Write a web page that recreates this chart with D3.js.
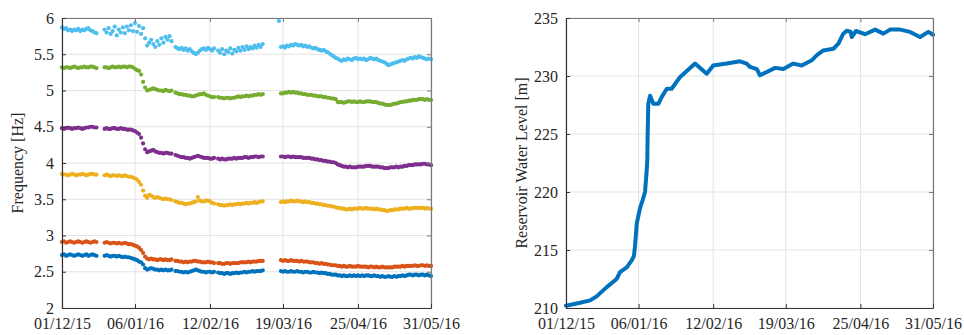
<!DOCTYPE html>
<html>
<head>
<meta charset="utf-8">
<script src="https://cdn.jsdelivr.net/npm/d3@7"></script>
<style>
  html, body { margin: 0; padding: 0; background: #fff; }
  svg { display: block; }
  svg text { font-family: "Liberation Serif", "DejaVu Serif", serif !important; fill: #262626; }
</style>
</head>
<body>
<svg id="fig" width="964" height="335"></svg>
<script>
// ---- data ----
const _ = null;
const startDate = new Date(2015, 11, 1);
const endDate = new Date(2016, 4, 31);
const tickDates = ["2015-12-01", "2016-01-06", "2016-02-12", "2016-03-19", "2016-04-25", "2016-05-31"];
const freqTicks = [2, 2.5, 3, 3.5, 4, 4.5, 5, 5.5, 6];
const levelTicks = [210, 215, 220, 225, 230, 235];

// daily natural frequencies, one entry per day from 01/12/15 (null = no record)
const mode1 = [2.73,2.74,2.72,2.73,2.74,2.73,2.72,2.73,2.74,2.73,2.72,2.73,2.74,2.72,2.73,2.74,2.73,2.72,_,_,_,
  2.72,2.73,2.72,2.71,2.72,2.72,2.71,2.72,2.71,2.70,2.71,2.70,2.70,2.69,2.68,2.67,2.66,2.64,2.63,2.60,2.55,2.53,
  2.54,2.55,2.54,2.53,2.53,2.52,2.53,2.52,2.53,2.52,2.52,2.53,_,
  2.51,2.51,2.50,2.50,2.49,2.50,2.49,2.50,2.51,2.52,2.53,2.52,2.51,2.50,2.50,2.49,2.50,2.50,2.49,2.50,_,
  2.49,2.48,2.48,2.47,2.48,2.48,2.47,2.48,2.48,2.49,2.48,2.49,2.49,2.50,2.49,2.50,2.50,2.51,2.50,2.51,2.51,2.51,2.52,
  _,_,_,_,_,_,_,_,
  2.51,2.50,2.51,2.50,2.50,2.51,2.50,2.50,2.51,2.50,
  2.50,2.49,2.50,2.50,2.49,2.49,2.50,2.49,2.49,2.48,
  2.49,2.48,2.48,2.47,2.47,2.46,2.46,2.46,2.45,2.45,
  2.44,2.45,2.44,2.44,2.45,2.44,2.45,2.44,2.45,2.44,
  2.45,2.44,2.45,2.45,2.44,2.44,2.45,2.44,2.44,2.43,
  2.44,2.43,2.43,2.44,2.43,2.43,2.44,2.43,2.44,2.44,
  2.45,2.44,2.45,2.46,2.46,2.45,2.46,2.46,2.45,2.46,
  2.46,2.45,2.46,2.45,2.44];

const mode2 = [2.91,2.92,2.90,2.91,2.92,2.91,2.90,2.91,2.92,2.91,2.90,2.91,2.92,2.91,2.90,2.91,2.92,2.91,_,_,_,
  2.90,2.91,2.90,2.89,2.90,2.90,2.89,2.90,2.89,2.89,2.90,2.89,2.88,2.88,2.87,2.86,2.85,2.83,2.80,2.76,2.71,2.68,
  2.67,2.68,2.67,2.67,2.66,2.67,2.67,2.66,2.67,2.66,2.66,2.67,_,
  2.65,2.65,2.64,2.64,2.63,2.64,2.63,2.64,2.64,2.65,2.65,2.64,2.64,2.63,2.63,2.63,2.64,2.63,2.63,2.62,_,
  2.62,2.62,2.61,2.61,2.62,2.62,2.61,2.62,2.62,2.62,2.62,2.63,2.63,2.63,2.63,2.64,2.63,2.64,2.64,2.64,2.65,2.65,2.65,
  _,_,_,_,_,_,_,_,
  2.66,2.65,2.66,2.65,2.65,2.66,2.65,2.65,2.65,2.64,
  2.65,2.64,2.64,2.64,2.63,2.63,2.63,2.62,2.62,2.61,
  2.62,2.61,2.61,2.60,2.60,2.59,2.59,2.59,2.58,2.58,
  2.57,2.58,2.57,2.57,2.58,2.57,2.57,2.57,2.58,2.57,
  2.57,2.57,2.57,2.56,2.57,2.57,2.56,2.57,2.56,2.56,
  2.57,2.56,2.56,2.56,2.56,2.56,2.57,2.57,2.57,2.57,
  2.58,2.57,2.58,2.58,2.58,2.58,2.59,2.58,2.58,2.59,
  2.59,2.58,2.59,2.58,2.58];

const mode3 = [3.85,3.84,3.84,3.83,3.84,3.85,3.84,3.83,3.84,3.84,3.85,3.84,3.83,3.84,3.85,3.85,3.84,3.84,_,_,_,
  3.83,3.84,3.83,3.82,3.83,3.83,3.82,3.83,3.82,3.82,3.83,3.82,3.81,3.81,3.80,3.79,3.77,3.74,3.70,3.62,3.55,3.52,
  3.56,3.55,3.53,3.52,3.53,3.52,3.51,3.50,3.51,3.50,3.50,3.49,_,
  3.47,3.46,3.45,3.45,3.44,3.43,3.44,3.44,3.45,3.46,3.47,3.53,3.48,3.47,3.47,3.48,3.48,3.47,3.45,3.44,_,
  3.43,3.42,3.42,3.41,3.42,3.42,3.43,3.42,3.43,3.43,3.44,3.43,3.44,3.44,3.45,3.44,3.45,3.45,3.46,3.45,3.46,3.47,3.47,
  _,_,_,_,_,_,_,_,
  3.46,3.47,3.46,3.47,3.47,3.48,3.47,3.47,3.48,3.47,
  3.47,3.46,3.47,3.46,3.46,3.45,3.45,3.44,3.44,3.43,
  3.43,3.42,3.42,3.41,3.41,3.40,3.40,3.39,3.38,3.38,
  3.37,3.37,3.36,3.36,3.37,3.36,3.37,3.37,3.37,3.38,
  3.37,3.37,3.38,3.37,3.37,3.37,3.36,3.37,3.36,3.36,
  3.35,3.35,3.34,3.34,3.35,3.35,3.36,3.36,3.36,3.37,
  3.37,3.37,3.38,3.37,3.37,3.38,3.38,3.38,3.38,3.38,
  3.38,3.37,3.38,3.37,3.37];

const mode4 = [4.48,4.47,4.48,4.49,4.48,4.47,4.48,4.48,4.49,4.48,4.47,4.48,4.49,4.49,4.50,4.50,4.49,4.49,_,_,_,
  4.47,4.48,4.47,4.47,4.48,4.48,4.47,4.47,4.48,4.47,4.47,4.46,4.46,4.46,4.45,4.44,4.42,4.40,4.35,4.27,4.19,4.15,
  4.16,4.17,4.18,4.16,4.15,4.14,4.14,4.13,4.14,4.14,4.13,4.13,_,
  4.11,4.10,4.09,4.08,4.08,4.07,4.07,4.06,4.07,4.08,4.09,4.10,4.09,4.08,4.07,4.07,4.07,4.06,4.06,4.07,_,
  4.06,4.05,4.06,4.05,4.05,4.06,4.06,4.06,4.07,4.06,4.07,4.07,4.07,4.08,4.08,4.07,4.08,4.08,4.09,4.09,4.08,4.09,4.09,
  _,_,_,_,_,_,_,_,
  4.09,4.09,4.08,4.09,4.09,4.08,4.09,4.08,4.08,4.08,
  4.08,4.07,4.07,4.07,4.07,4.06,4.06,4.05,4.05,4.04,
  4.04,4.03,4.03,4.02,4.02,4.01,4.01,4.00,3.98,3.97,
  3.96,3.95,3.95,3.94,3.95,3.94,3.94,3.94,3.95,3.95,
  3.95,3.95,3.96,3.96,3.96,3.95,3.95,3.95,3.95,3.94,
  3.94,3.93,3.93,3.93,3.94,3.94,3.94,3.95,3.94,3.95,
  3.95,3.96,3.96,3.97,3.97,3.97,3.98,3.98,3.98,3.98,
  3.99,3.99,3.98,3.98,3.97];

const mode5 = [5.32,5.31,5.32,5.32,5.31,5.32,5.33,5.32,5.31,5.32,5.32,5.33,5.32,5.32,5.33,5.33,5.32,5.31,_,_,_,
  5.32,5.32,5.31,5.32,5.33,5.32,5.32,5.33,5.32,5.33,5.33,5.32,5.33,5.33,5.32,5.30,5.28,5.27,5.22,5.12,5.04,5.00,
  5.01,5.02,5.03,5.02,5.01,5.00,5.00,4.99,5.01,5.00,4.99,5.00,_,
  4.97,4.96,4.95,4.95,4.94,4.94,4.93,4.93,4.92,4.92,4.93,4.94,4.95,4.95,4.96,4.94,4.93,4.92,4.91,4.91,_,
  4.91,4.90,4.90,4.89,4.90,4.90,4.89,4.90,4.90,4.91,4.92,4.91,4.92,4.92,4.93,4.92,4.93,4.93,4.94,4.94,4.95,4.94,4.95,
  _,_,_,_,_,_,_,_,
  4.96,4.96,4.97,4.97,4.98,4.97,4.98,4.97,4.97,4.96,
  4.96,4.95,4.95,4.94,4.94,4.94,4.93,4.93,4.92,4.92,
  4.92,4.91,4.91,4.90,4.90,4.89,4.89,4.88,4.84,4.84,
  4.84,4.83,4.84,4.85,4.85,4.84,4.85,4.84,4.84,4.85,
  4.84,4.84,4.85,4.85,4.85,4.84,4.84,4.84,4.83,4.82,
  4.82,4.81,4.80,4.80,4.80,4.81,4.82,4.82,4.83,4.84,
  4.84,4.85,4.85,4.86,4.86,4.87,4.87,4.87,4.88,4.88,
  4.88,4.87,4.88,4.87,4.87];

const mode6 = [5.87,5.85,5.86,5.83,5.84,5.82,5.84,5.83,5.85,5.82,5.84,5.83,5.85,5.86,5.83,5.82,5.80,5.79,_,_,_,
  5.84,5.80,5.86,5.78,5.82,5.88,5.76,5.84,5.80,5.87,5.79,5.88,5.83,5.90,5.82,5.93,5.81,5.89,5.78,5.86,
  5.72,5.62,5.66,5.70,5.64,5.60,5.68,5.63,5.72,5.66,5.74,5.70,5.75,5.68,_,
  5.60,5.58,5.57,5.59,5.56,5.58,5.55,5.57,5.54,5.52,5.50,5.52,5.55,5.57,5.58,5.56,5.59,5.57,5.55,5.58,_,
  5.55,5.52,5.57,5.50,5.55,5.53,5.58,5.51,5.56,5.54,5.59,5.55,5.60,5.56,5.61,5.57,5.60,5.58,5.62,5.59,5.63,5.60,5.64,
  _,_,_,_,_,_,_,5.96,
  5.60,5.61,5.59,5.62,5.61,5.63,5.62,5.64,5.63,5.62,
  5.63,5.61,5.62,5.60,5.61,5.59,5.58,5.59,5.57,5.56,
  5.55,5.56,5.54,5.53,5.51,5.49,5.47,5.45,5.44,5.42,
  5.41,5.43,5.42,5.44,5.43,5.42,5.44,5.45,5.43,5.44,
  5.43,5.44,5.42,5.43,5.45,5.44,5.43,5.44,5.42,5.41,
  5.40,5.39,5.37,5.35,5.36,5.37,5.38,5.39,5.40,5.41,
  5.42,5.41,5.43,5.44,5.45,5.44,5.46,5.45,5.47,5.46,
  5.45,5.44,5.43,5.44,5.43];

const modeColors = ["#0072BD", "#D95319", "#EDB120", "#7E2F8E", "#77AC30", "#4DBEEE"];

// reservoir water level: days since 01/12/15 and level in metres
const levelDay = [0, 7, 12, 15.2, 20.2, 23.3, 25.1, 26.8, 30.1, 32.6, 33.7, 34.2, 35.1, 36.7, 38, 39.2, 40, 40.3,
  40.5, 40.8, 41.7, 43.3, 45.8, 47.5, 50, 52.4, 56.5, 64, 69.8, 73, 79.7, 86.3, 89.6, 91.3, 94.6, 96.2, 99.6,
  103.7, 107.8, 112.7, 116.9, 121.9, 124.4, 127.6, 132.6, 135.1, 137.5, 139.2, 141.2, 141.7, 143.8, 148.3,
  153.3, 157.4, 160.7, 165.7, 170.6, 175.6, 179.7, 182];
const levelValue = [210.2, 210.45, 210.66, 211.0, 211.8, 212.24, 212.5, 213.1, 213.5, 214.1, 214.5, 215.3, 217.3,
  218.6, 219.3, 220.0, 221.8, 222.7, 225.0, 227.6, 228.3, 227.6, 227.6, 228.2, 228.9, 228.9, 229.9, 231.07,
  230.2, 230.9, 231.07, 231.27, 231.07, 230.78, 230.6, 230.06, 230.35, 230.7, 230.6, 231.07, 230.9, 231.35,
  231.8, 232.2, 232.35, 232.8, 233.65, 233.9, 233.8, 233.36, 233.88, 233.6, 234.0, 233.65, 234.0, 234.0,
  233.8, 233.36, 233.8, 233.55];

// ---- drawing ----
const svg = d3.select("#fig");
const parse = d3.timeParse("%Y-%m-%d");
const fmt = d3.timeFormat("%d/%m/%y");
const ticks = tickDates.map(parse);
const plotTop = 18, plotBottom = 308;
const serif = '"Liberation Serif", "DejaVu Serif", serif';

function panel(x0, x1, yDomain, yTicks, yFmt, title, titleX) {
  const x = d3.scaleTime().domain([startDate, endDate]).range([x0, x1]);
  const y = d3.scaleLinear().domain(yDomain).range([plotBottom, plotTop]);
  const g = svg.append("g");

  // grid
  g.append("g").selectAll("line").data(ticks).join("line")
    .attr("x1", d => x(d)).attr("x2", d => x(d)).attr("y1", plotTop).attr("y2", plotBottom)
    .attr("stroke", "#e3e3e3").attr("stroke-width", 1);
  g.append("g").selectAll("line").data(yTicks).join("line")
    .attr("x1", x0).attr("x2", x1).attr("y1", d => y(d)).attr("y2", d => y(d))
    .attr("stroke", "#e3e3e3").attr("stroke-width", 1);

  const plot = g.append("g");

  // axes (ticks pointing inward, box on)
  const axB = d3.axisBottom(x).tickValues(ticks).tickFormat(fmt).tickSizeInner(-4).tickSizeOuter(0).tickPadding(10);
  const axT = d3.axisTop(x).tickValues(ticks).tickFormat("").tickSizeInner(-4).tickSizeOuter(0);
  const axL = d3.axisLeft(y).tickValues(yTicks).tickFormat(yFmt).tickSizeInner(-4).tickSizeOuter(0).tickPadding(8);
  const axR = d3.axisRight(y).tickValues(yTicks).tickFormat("").tickSizeInner(-4).tickSizeOuter(0);

  const style = (sel, col) => {
    sel.attr("font-family", serif).attr("font-size", 16);
    sel.select(".domain").attr("stroke", col).attr("stroke-width", 1.2);
    sel.selectAll(".tick line").attr("stroke", col);
    sel.selectAll(".tick text").attr("font-family", serif).attr("font-size", 16).attr("fill", "#262626");
  };
  g.append("g").attr("transform", `translate(0,${plotTop})`).call(axT).call(s => style(s, "#7a7a7a"));
  g.append("g").attr("transform", `translate(${x1},0)`).call(axR).call(s => style(s, "#7a7a7a"));
  g.append("g").attr("transform", `translate(0,${plotBottom})`).call(axB).call(s => style(s, "#333"));
  g.append("g").attr("transform", `translate(${x0},0)`).call(axL).call(s => style(s, "#333"));

  g.append("text")
    .attr("transform", `translate(${titleX},${(plotTop + plotBottom) / 2}) rotate(-90)`)
    .attr("text-anchor", "middle")
    .attr("font-family", serif)
    .attr("font-size", 16)
    .text(title);

  return { x, y, plot };
}

// left: identified frequencies
const L = panel(62, 431, [2, 6], freqTicks, d3.format(""), "Frequency [Hz]", 23);
const dayDate = i => d3.timeDay.offset(startDate, i);
[mode1, mode2, mode3, mode4, mode5, mode6].forEach((series, k) => {
  const pts = series.map((v, i) => ({ d: dayDate(i), v })).filter(p => p.v !== null);
  L.plot.append("g").attr("fill", modeColors[k])
    .selectAll("circle").data(pts).join("circle")
    .attr("cx", p => L.x(p.d)).attr("cy", p => L.y(p.v)).attr("r", 2.1);
});

// right: reservoir water level
const R = panel(566, 933, [210, 235], levelTicks, d3.format(""), "Reservoir Water Level [m]", 527);
const lvl = levelDay.map((d, i) => ({ d: new Date(startDate.getTime() + d * 864e5), v: levelValue[i] }));
R.plot.append("path").datum(lvl)
  .attr("fill", "none").attr("stroke", "#0072BD").attr("stroke-width", 4)
  .attr("stroke-linejoin", "round").attr("stroke-linecap", "round")
  .attr("d", d3.line().x(p => R.x(p.d)).y(p => R.y(p.v)));
</script>
</body>
</html>
